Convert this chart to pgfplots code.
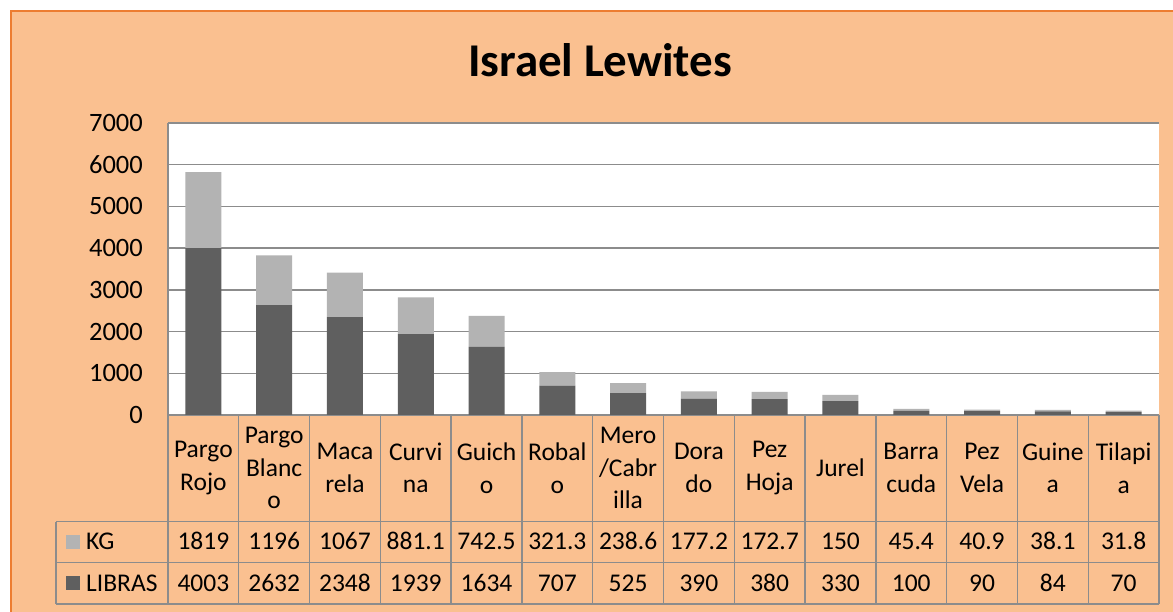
\documentclass[border=0pt]{standalone}
\usepackage{pgfplots}
\pgfplotsset{compat=1.18}
\usepackage{pgfplotstable}
\usepackage{fontspec}
\setmainfont{Carlito}
\definecolor{peach}{HTML}{FAC090}
\definecolor{borderor}{HTML}{ED7D31}
\definecolor{darkbar}{HTML}{5F5F5F}
\definecolor{lightbar}{HTML}{B3B3B3}
\definecolor{gridc}{HTML}{8C8C8C}

\pgfplotstableread{
x libras kg
0 4003 1819
1 2632 1196
2 2348 1067
3 1939 881.1
4 1634 742.5
5 707 321.3
6 525 238.6
7 390 177.2
8 380 172.7
9 330 150
10 100 45.4
11 90 40.9
12 84 38.1
13 70 31.8
}\fishdata

\begin{document}
\begin{tikzpicture}[x=1pt,y=1pt]
\clip (0,0) rectangle (1173,612);
\fill[white] (0,0) rectangle (1173,612);
\filldraw[fill=peach, draw=borderor, line width=2pt] (11,601) rectangle (1195,-20);
\node[font=\fontsize{47}{56}\selectfont\bfseries] at (600,552) {Israel Lewites};

\begin{axis}[at={(168pt,197pt)}, anchor=south west, scale only axis,
  width=991pt, height=292pt,
  ybar stacked, bar width=36pt,
  xmin=-0.5, xmax=13.5, ymin=0, ymax=7000,
  ytick={0,1000,...,7000},
  xtick={0,...,13},
  xticklabels={{Pargo\\Rojo},{Pargo\\Blanc\\o},{Maca\\rela},{Curvi\\na},{Guich\\o},{Robal\\o},{Mero\\/Cabr\\illa},{Dora\\do},{Pez\\Hoja},{Jurel},{Barra\\cuda},{Pez\\Vela},{Guine\\a},{Tilapi\\a}},
  axis background/.style={fill=white},
  ymajorgrids, grid style={gridc, line width=1.3pt},
  axis x line*=bottom, axis y line*=left,
  axis line style={gridc, line width=1.3pt, -},
  major tick length=0pt,
  yticklabel style={anchor=east, inner sep=0pt, xshift=-25pt, font=\fontsize{26.5}{31}\selectfont},
  xticklabel style={anchor=center, yshift=-53pt, text width=70pt, align=center, inner sep=0pt, font=\fontsize{25.5}{32.5}\selectfont},
  /pgf/number format/assume math mode=true,
  /pgf/number format/1000 sep={},
]
\addplot[fill=darkbar, draw=none] table[x=x, y=libras]{\fishdata};
\addplot[fill=lightbar, draw=none] table[x=x, y=kg]{\fishdata};
\end{axis}

\begin{axis}[at={(168pt,197pt)}, anchor=south west, scale only axis,
  width=991pt, height=292pt, hide axis, clip=false,
  xmin=-0.5, xmax=13.5, ymin=0, ymax=7000]
\addplot[draw=none, mark=none, nodes near coords={\pgfplotspointmeta}, point meta=explicit symbolic,
  nodes near coords style={anchor=base, yshift=-135pt, font=\fontsize{25.5}{30}\selectfont, inner sep=0pt}]
  table[x=x, y expr=0, meta=kg]{\fishdata};
\addplot[draw=none, mark=none, nodes near coords={\pgfplotspointmeta}, point meta=explicit symbolic,
  nodes near coords style={anchor=base, yshift=-176.3pt, font=\fontsize{25.5}{30}\selectfont, inner sep=0pt}]
  table[x=x, y expr=0, meta=libras]{\fishdata};
\end{axis}

% data table grid
\foreach \k in {0,...,14} {
  \draw[gridc, line width=1.3pt] ({168+70.786*\k},197) -- ({168+70.786*\k},8);
}
\draw[gridc, line width=1.3pt] (56,90.3) -- (1159,90.3);
\draw[gridc, line width=1.3pt] (56,49.3) -- (1159,49.3);
\draw[gridc, line width=1.3pt] (56,8) -- (1159,8);
\draw[gridc, line width=1.3pt] (56,90.3) -- (56,8);
% legend keys
\fill[lightbar] (66,63) rectangle (80,77);
\fill[darkbar] (66,22) rectangle (80,36);
\node[anchor=base west, inner sep=0pt, font=\fontsize{25.5}{30}\selectfont] at (86,62) {KG};
\node[anchor=base west, inner sep=0pt, font=\fontsize{25.5}{30}\selectfont] at (86,20.7) {LIBRAS};
\end{tikzpicture}
\end{document}
